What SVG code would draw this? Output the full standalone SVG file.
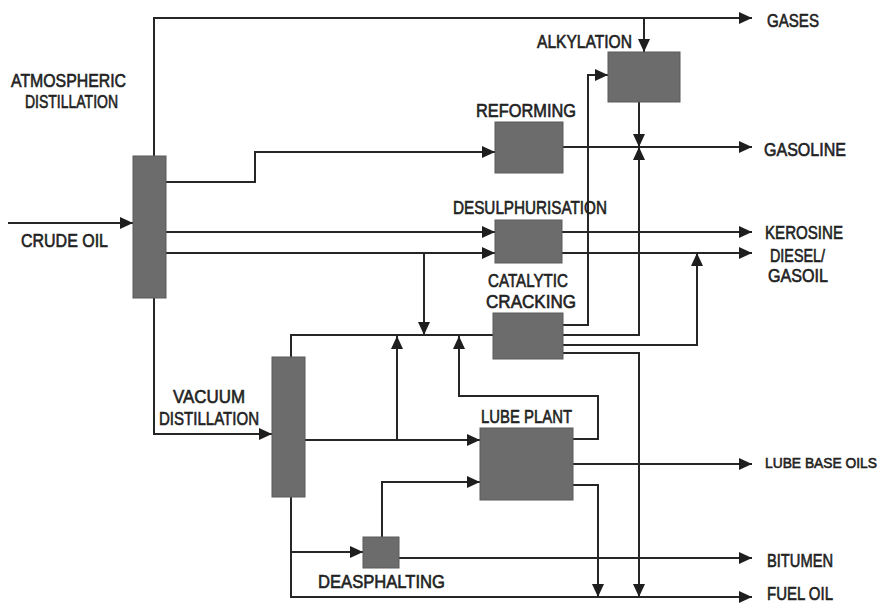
<svg xmlns="http://www.w3.org/2000/svg" width="890" height="603" viewBox="0 0 890 603">
<defs>
<marker id="ah" markerUnits="userSpaceOnUse" markerWidth="14" markerHeight="12" refX="13" refY="6" orient="auto" viewBox="0 0 14 12">
<path d="M0,0 L13,6 L0,12 z" fill="#1e1e1e"/>
</marker>
<style>
.box{fill:#6c6c6c;stroke:#5a5a5a;stroke-width:1}
.ln{fill:none;stroke:#262626;stroke-width:2}
.ar{marker-end:url(#ah)}
text{font-family:"Liberation Sans",Arial,sans-serif;font-size:18px;fill:#222;stroke:#222;stroke-width:0.6}
</style>
</defs>
<rect width="890" height="603" fill="#fff"/>
<g id="connectors">
<path class="ln ar" d="M154,156 V18 H752"/>
<path class="ln ar" d="M644,18 V52"/>
<path class="ln ar" d="M166,182 H255 V152 H495"/>
<path class="ln ar" d="M563,147 H752"/>
<path class="ln ar" d="M639,102 V147"/>
<path class="ln ar" d="M8,223 H133"/>
<path class="ln ar" d="M166,232 H495"/>
<path class="ln ar" d="M166,253 H495"/>
<path class="ln ar" d="M562,232 H752"/>
<path class="ln ar" d="M562,253 H752"/>
<path class="ln ar" d="M424,253 V335"/>
<path class="ln" d="M291,357 V335 H493"/>
<path class="ln ar" d="M305,440 H480"/>
<path class="ln ar" d="M397,440 V336"/>
<path class="ln ar" d="M563,325 H588 V75 H608"/>
<path class="ln ar" d="M563,335 H639 V147"/>
<path class="ln ar" d="M563,345 H697 V253"/>
<path class="ln ar" d="M563,353 H639 V597"/>
<path class="ln ar" d="M154,298 V434 H272"/>
<path class="ln ar" d="M573,439 H598 V396 H459 V336"/>
<path class="ln ar" d="M573,464 H752"/>
<path class="ln ar" d="M573,485 H598 V597"/>
<path class="ln ar" d="M382,537 V482 H480"/>
<path class="ln ar" d="M291,497 V597 H752"/>
<path class="ln ar" d="M291,552 H363"/>
<path class="ln ar" d="M399,558 H752"/>
</g>
<g id="atmospheric-distillation">
<rect class="box" x="133" y="156" width="33" height="142"/>
<text x="11" y="87" textLength="115" lengthAdjust="spacingAndGlyphs">ATMOSPHERIC</text>
<text x="25" y="108" textLength="93" lengthAdjust="spacingAndGlyphs">DISTILLATION</text>
</g>
<g id="crude-oil">
<text x="21" y="247" textLength="87" lengthAdjust="spacingAndGlyphs">CRUDE OIL</text>
</g>
<g id="reforming">
<rect class="box" x="495" y="122" width="68" height="51"/>
<text x="476" y="117" textLength="100" lengthAdjust="spacingAndGlyphs">REFORMING</text>
</g>
<g id="alkylation">
<rect class="box" x="608" y="52" width="72" height="50"/>
<text x="537" y="48" textLength="95" lengthAdjust="spacingAndGlyphs">ALKYLATION</text>
</g>
<g id="desulphurisation">
<rect class="box" x="495" y="220" width="67" height="43"/>
<text x="453" y="214" textLength="154" lengthAdjust="spacingAndGlyphs">DESULPHURISATION</text>
</g>
<g id="catalytic-cracking">
<rect class="box" x="493" y="313" width="70" height="46"/>
<text x="488" y="287" textLength="80" lengthAdjust="spacingAndGlyphs">CATALYTIC</text>
<text x="486" y="308" textLength="90" lengthAdjust="spacingAndGlyphs">CRACKING</text>
</g>
<g id="vacuum-distillation">
<rect class="box" x="272" y="357" width="33" height="140"/>
<text x="173" y="403" textLength="72" lengthAdjust="spacingAndGlyphs">VACUUM</text>
<text x="159" y="425" textLength="100" lengthAdjust="spacingAndGlyphs">DISTILLATION</text>
</g>
<g id="lube-plant">
<rect class="box" x="480" y="428" width="93" height="72"/>
<text x="481" y="423" textLength="91" lengthAdjust="spacingAndGlyphs">LUBE PLANT</text>
</g>
<g id="deasphalting">
<rect class="box" x="363" y="537" width="36" height="31"/>
<text x="318" y="588" textLength="127" lengthAdjust="spacingAndGlyphs">DEASPHALTING</text>
</g>
<g id="products">
<text x="767" y="27" textLength="52" lengthAdjust="spacingAndGlyphs">GASES</text>
<text x="764" y="156" textLength="82" lengthAdjust="spacingAndGlyphs">GASOLINE</text>
<text x="765" y="239" textLength="78" lengthAdjust="spacingAndGlyphs">KEROSINE</text>
<text x="770" y="262" textLength="55" lengthAdjust="spacingAndGlyphs">DIESEL/</text>
<text x="768" y="282" textLength="60" lengthAdjust="spacingAndGlyphs">GASOIL</text>
<text x="765" y="468" textLength="112" lengthAdjust="spacingAndGlyphs" style="font-size:15px">LUBE BASE OILS</text>
<text x="767" y="567" textLength="66" lengthAdjust="spacingAndGlyphs">BITUMEN</text>
<text x="767" y="600" textLength="66" lengthAdjust="spacingAndGlyphs">FUEL OIL</text>
</g>
</svg>
